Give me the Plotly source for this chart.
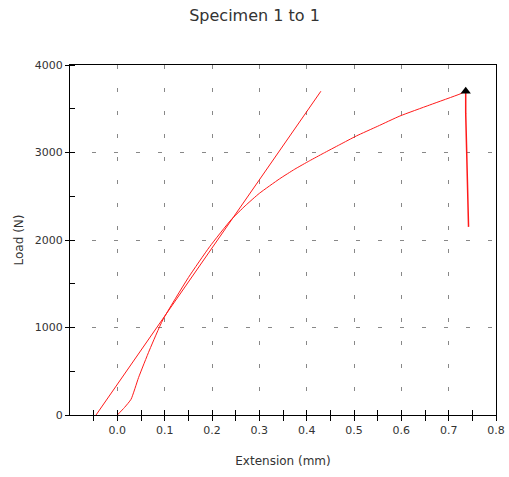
import plotly.graph_objects as go

# Specimen curve (Extension mm, Load N)
ext = [0.0, 0.015, 0.029, 0.045, 0.068, 0.096, 0.15, 0.195, 0.24, 0.27, 0.30,
       0.343, 0.375, 0.406, 0.435, 0.47, 0.505, 0.55, 0.597, 0.66, 0.724, 0.736]
load = [0, 85, 180, 430, 743, 1086, 1570, 1923, 2229, 2390, 2533,
        2700, 2810, 2905, 2990, 3090, 3189, 3300, 3417, 3543, 3669, 3700]

# Drop after break
drop_ext = [0.736, 0.736, 0.738, 0.740, 0.742]
drop_load = [3700, 3450, 3020, 2580, 2150]

# Modulus (tangent) line
mod_ext = [-0.045, 0.43]
mod_load = [0, 3700]

# Break marker
peak_ext = [0.736]
peak_load = [3700]

xticks = [0.0, 0.1, 0.2, 0.3, 0.4, 0.5, 0.6, 0.7, 0.8]
xticklabels = ["0.0", "0.1", "0.2", "0.3", "0.4", "0.5", "0.6", "0.7", "0.8"]
yticks = [0, 1000, 2000, 3000, 4000]
xminor = [-0.05, 0.05, 0.15, 0.25, 0.35, 0.45, 0.55, 0.65, 0.75]

font = "DejaVu Sans"
red = "#ff1a1a"
fig = go.Figure()
fig.add_trace(go.Scatter(x=mod_ext, y=mod_load, mode="lines",
                         line=dict(color=red, width=1), showlegend=False))
fig.add_trace(go.Scatter(x=ext, y=load, mode="lines",
                         line=dict(color=red, width=1, shape="spline", smoothing=0.5),
                         showlegend=False))
fig.add_trace(go.Scatter(x=drop_ext, y=drop_load, mode="lines",
                         line=dict(color=red, width=1.5), showlegend=False))
fig.add_trace(go.Scatter(x=peak_ext, y=peak_load, mode="markers",
                         marker=dict(symbol="triangle-up", size=9, color="black"),
                         showlegend=False))
# invisible trace for inside-tick overlay axis
fig.add_trace(go.Scatter(x=[0], y=[0], xaxis="x2", mode="markers",
                         marker=dict(opacity=0), showlegend=False, hoverinfo="skip"))

fig.update_layout(
    width=509, height=477,
    margin=dict(l=70, r=13, t=65, b=62),
    paper_bgcolor="white", plot_bgcolor="white",
    font=dict(family=font, size=11, color="#333"),
    title=dict(text="Specimen 1 to 1", x=0.5, xanchor="center", y=0.968,
               yanchor="middle", font=dict(family=font, size=16, color="#333")),
    xaxis=dict(range=[-0.1, 0.8], tickvals=xticks, ticktext=xticklabels,
               automargin=False,
               ticks="outside", ticklen=5, tickcolor="black",
               minor=dict(tickvals=xminor, ticks="outside", ticklen=5, tickcolor="black"),
               showline=True, linecolor="black", linewidth=1, mirror=True,
               showgrid=True, gridcolor="#888", griddash="4px,19px", gridwidth=1,
               zeroline=False,
               title=dict(text="Extension (mm)", font=dict(size=12), standoff=20)),
    xaxis2=dict(range=[-0.1, 0.8], overlaying="x", side="bottom", automargin=False,
                tickvals=[round(-0.05 + 0.05 * i, 2) for i in range(18)],
                ticks="inside", ticklen=5, tickcolor="black", showticklabels=False,
                showgrid=False, zeroline=False, showline=False),
    yaxis=dict(range=[0, 4000], tickvals=yticks, automargin=False,
               ticks="outside", ticklen=4, tickcolor="black",
               minor=dict(dtick=500, ticks="inside", ticklen=5, tickcolor="black"),
               showline=True, linecolor="black", linewidth=1, mirror=True,
               showgrid=True, gridcolor="#888", griddash="4px,18px", gridwidth=1,
               zeroline=False,
               title=dict(text="Load (N)", font=dict(size=12), standoff=8)),
)

fig.write_html("out.html")
